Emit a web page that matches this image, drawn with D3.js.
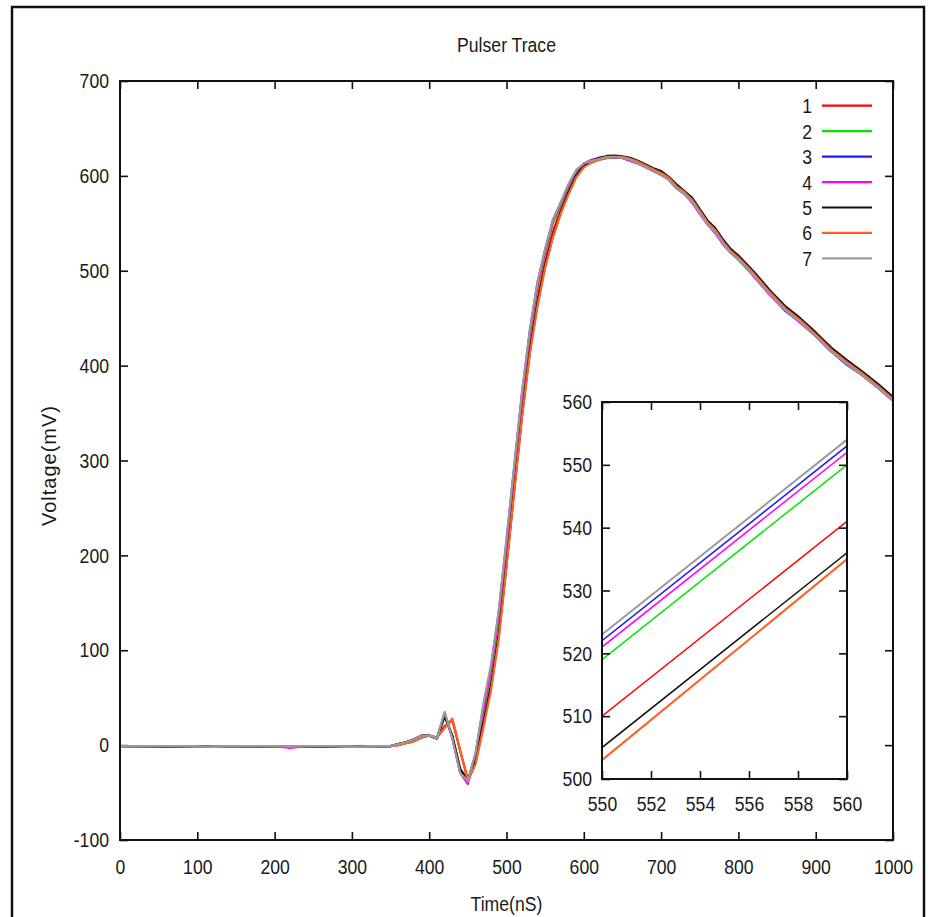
<!DOCTYPE html>
<html>
<head>
<meta charset="utf-8">
<script src="https://cdn.jsdelivr.net/npm/d3@7"></script>
<style>
  body { margin: 0; background: #fff; }
  text { font-family: "Liberation Sans", Arial, Helvetica, sans-serif; fill: #1a1a1a; }
</style>
</head>
<body>
<svg id="chart" width="932" height="917"></svg>
<script>
// Sample times (ns) shared by all traces
const time = [
  0, 20, 40, 60, 80, 100, 120, 140, 160, 180, 200, 220, 240, 260, 280, 300, 320, 340,
  350, 360, 370, 380, 390, 400, 410,
  420, 430, 440, 450,
  460, 470, 480, 490, 500, 510, 520, 530, 540, 550, 560, 570, 580, 590, 600, 610, 620, 630, 640,
  650, 660, 670, 680, 690, 700, 710, 720, 730, 740, 750, 760, 770, 780, 790, 800,
  820, 840, 860, 880, 900, 920, 940, 960, 980, 1000
];

// Voltage (mV) of each recorded pulse
const trace1 = [
  -1, -1, -2, -1, -1, -2, -1, -1, -2, -1, -1, -1, -2, -1, -1, -1, -1, -1,
  -1, 0, 2, 4, 8, 10, 8,
  20, 26, -6, -36,
  -18, 22, 64, 118, 193, 272, 350, 418, 470, 510, 541, 564, 584, 600, 610, 615, 617, 619, 619.5,
  619, 617, 614, 610, 606, 602, 597, 588, 582, 574, 562, 550, 542, 530, 520, 513,
  496, 477, 460, 447, 432, 416, 403, 391, 378, 364
];
const trace2 = [
  -2, -1, -1, -2, -1, -1, -2, -1, -1, -1, -2, -1, -1, -1, -2, -1, -1, -1,
  -1, 1, 3, 6, 10, 10, 7,
  32, 9, -26, -37,
  -12, 31, 75, 132, 207, 285, 362, 429, 482, 519, 550, 569, 589, 604, 612, 616, 618, 619, 620,
  619, 617, 613, 610, 606, 602, 597, 588, 582, 574, 562, 550, 541, 529, 520, 512,
  495, 476, 459, 446, 432, 416, 402, 391, 378, 364
];
const trace3 = [
  -1, -1, -1, -1, -2, -1, -1, -1, -1, -2, -1, -1, -1, -2, -1, -1, -1, -1,
  -1, 1, 3, 6, 10, 10, 7,
  34, 8, -28, -38,
  -9, 40, 82, 140, 215, 293, 370, 435, 487, 522, 553, 571, 590, 605, 613, 616, 618, 619.5, 620,
  619, 616, 613, 609, 605, 601, 596, 587, 581, 573, 561, 549, 540, 529, 519, 512,
  495, 476, 458, 446, 431, 415, 401, 390, 377, 363
];
const trace4 = [
  -1, -1, -1, -1, -1, -1, -1, -2, -1, -1, -1, -3, -1, -1, -1, -1, -1, -2,
  -1, 1, 3, 6, 10, 10, 7,
  33, 7, -29, -41,
  -10, 36, 79, 137, 212, 290, 367, 433, 485, 521, 552, 571, 590, 605, 613, 617, 619, 620, 620,
  619, 616, 613, 609, 605, 601, 596, 587, 581, 572, 560, 549, 540, 528, 519, 512,
  494, 475, 459, 445, 431, 415, 402, 390, 377, 363
];
const trace5 = [
  -1, -1, -1, -2, -1, -1, -1, -1, -1, -1, -1, -1, -1, -2, -1, -1, -1, -1,
  -1, 1, 3, 6, 10, 10, 7,
  30, 10, -25, -37,
  -15, 23, 62, 116, 190, 269, 347, 414, 465, 505, 536, 561, 582, 600, 611, 616, 619, 621, 621.5,
  620.5, 619, 616, 612, 608, 605, 599, 591, 584, 577, 565, 553, 545, 533, 523, 516,
  499, 480, 463, 450, 435, 419, 406, 394, 381, 367
];
const trace6 = [
  -2, -1, -1, -1, -1, -2, -1, -1, -1, -1, -1, -2, -1, -1, -1, -1, -2, -1,
  -1, 0, 2, 4, 8, 10, 8,
  18, 28, -5, -38,
  -20, 18, 58, 112, 188, 267, 345, 411, 462, 503, 535, 560, 580, 598, 609, 614, 617, 619, 620,
  620, 618, 615, 611, 607, 603, 598, 589, 583, 575, 563, 551, 543, 531, 521, 514,
  497, 478, 461, 448, 433, 417, 404, 392, 379, 365
];
const trace7 = [
  -1, -1, -1, -1, -1, -1, -2, -1, -1, -1, -1, -1, -1, -1, -1, -2, -1, -1,
  -1, 1, 3, 6, 10, 10, 7,
  35, 7, -29, -38,
  -8, 43, 85, 142, 218, 295, 372, 437, 488, 523, 554, 572, 591, 606, 613, 616, 618, 620, 620,
  619, 617, 613, 609, 605, 601, 596, 587, 581, 573, 561, 549, 541, 529, 519, 512,
  495, 476, 459, 446, 431, 415, 402, 390, 377, 363
];

const seriesNames = ["1", "2", "3", "4", "5", "6", "7"];
const seriesColors = ["#ff0000", "#00e600", "#1a1aff", "#ff00ff", "#111111", "#ff5f1f", "#9a9a9a"];

const xTickValues = [0, 100, 200, 300, 400, 500, 600, 700, 800, 900, 1000];
const yTickValues = [-100, 0, 100, 200, 300, 400, 500, 600, 700];
const insetXTicks = [550, 552, 554, 556, 558, 560];
const insetYTicks = [500, 510, 520, 530, 540, 550, 560];

const traces = [trace1, trace2, trace3, trace4, trace5, trace6, trace7];
const series = traces.map((vals, i) => ({
  name: seriesNames[i],
  color: seriesColors[i],
  points: vals.map((v, j) => [time[j], v])
}));

const svg = d3.select("#chart");
const SX = 0.84;           // narrow lettering
const FS = 21;
const plain = d => String(d);   // ASCII hyphen for negatives

// outer frame
svg.append("rect")
  .attr("x", 12).attr("y", 7).attr("width", 912).attr("height", 940)
  .attr("fill", "none").attr("stroke", "#111").attr("stroke-width", 2.5);

function label(g, x, y, str, anchor, size) {
  return g.append("text")
    .attr("transform", `translate(${x},${y}) scale(${SX},1)`)
    .attr("text-anchor", anchor)
    .attr("font-size", size || FS)
    .text(str);
}

function styleAxis(g, shiftX) {
  g.select(".domain").remove();
  g.selectAll(".tick line").attr("stroke", "#111").attr("stroke-width", 1.6);
  g.selectAll(".tick text")
    .attr("font-size", FS)
    .attr("fill", "#1a1a1a")
    .attr("font-family", "Liberation Sans, Arial, sans-serif")
    .attr("transform", `scale(${SX},1)`);
  if (shiftX !== undefined) g.selectAll(".tick text").attr("x", shiftX / SX);
}

// ---------- main plot ----------
const L = 120, R = 893, T = 81, B = 840;
const x = d3.scaleLinear().domain([0, 1000]).range([L, R]);
const y = d3.scaleLinear().domain([-100, 700]).range([B, T]);

label(svg, (L + R) / 2, 52, "Pulser Trace", "middle");
label(svg, (L + R) / 2, 911, "Time(nS)", "middle");
svg.append("text")
  .attr("transform", `translate(56,${(T + B) / 2 + 5}) rotate(-90)`)
  .attr("text-anchor", "middle")
  .attr("font-size", 20)
  .attr("letter-spacing", "1px")
  .text("Voltage(mV)");

const gx = svg.append("g").attr("transform", `translate(0,${B})`)
  .call(d3.axisBottom(x).tickValues(xTickValues).tickSizeInner(-8).tickSizeOuter(0).tickPadding(19).tickFormat(plain));
styleAxis(gx);
const gxt = svg.append("g").attr("transform", `translate(0,${T})`)
  .call(d3.axisTop(x).tickValues(xTickValues).tickSizeInner(-8).tickSizeOuter(0).tickFormat(""));
styleAxis(gxt);
const gy = svg.append("g").attr("transform", `translate(${L},0)`)
  .call(d3.axisLeft(y).tickValues(yTickValues).tickSizeInner(-8).tickSizeOuter(0).tickFormat(plain));
styleAxis(gy, -11);
const gyr = svg.append("g").attr("transform", `translate(${R},0)`)
  .call(d3.axisRight(y).tickValues(yTickValues).tickSizeInner(-8).tickSizeOuter(0).tickFormat(""));
styleAxis(gyr);

svg.append("clipPath").attr("id", "mainClip")
  .append("rect").attr("x", L).attr("y", T).attr("width", R - L).attr("height", B - T);

const line = d3.line().x(d => x(d[0])).y(d => y(d[1]));
svg.append("g").attr("clip-path", "url(#mainClip)")
  .selectAll("path").data(series).join("path")
  .attr("d", d => line(d.points))
  .attr("fill", "none")
  .attr("stroke", d => d.color)
  .attr("stroke-width", 2.2)
  .attr("stroke-linejoin", "round");

svg.append("rect")
  .attr("x", L).attr("y", T).attr("width", R - L).attr("height", B - T)
  .attr("fill", "none").attr("stroke", "#111").attr("stroke-width", 2);

// legend
const legend = svg.append("g");
series.forEach((s, i) => {
  const ly = 105.7 + i * 25.45;
  label(legend, 812, ly + 7.5, s.name, "end");
  legend.append("line")
    .attr("x1", 822).attr("x2", 872).attr("y1", ly).attr("y2", ly)
    .attr("stroke", s.color).attr("stroke-width", 2.2);
});

// ---------- inset: close-up of the rising edge ----------
const iL = 602, iR = 847, iT = 402, iB = 779;
const xi = d3.scaleLinear().domain([550, 560]).range([iL, iR]);
const yi = d3.scaleLinear().domain([500, 560]).range([iB, iT]);

svg.append("rect")
  .attr("x", iL).attr("y", iT).attr("width", iR - iL).attr("height", iB - iT)
  .attr("fill", "#fff");

svg.append("clipPath").attr("id", "insetClip")
  .append("rect").attr("x", iL).attr("y", iT).attr("width", iR - iL).attr("height", iB - iT);

const lineI = d3.line().x(d => xi(d[0])).y(d => yi(d[1]));
svg.append("g").attr("clip-path", "url(#insetClip)")
  .selectAll("path").data(series).join("path")
  .attr("d", d => lineI(d.points))
  .attr("fill", "none")
  .attr("stroke", d => d.color)
  .attr("stroke-width", (d, i) => (i === 5 || i === 6) ? 2 : 1.5);

const ix = svg.append("g").attr("transform", `translate(0,${iB})`)
  .call(d3.axisBottom(xi).tickValues(insetXTicks).tickSizeInner(-8).tickSizeOuter(0).tickPadding(17).tickFormat(plain));
styleAxis(ix);
const ixt = svg.append("g").attr("transform", `translate(0,${iT})`)
  .call(d3.axisTop(xi).tickValues(insetXTicks).tickSizeInner(-8).tickSizeOuter(0).tickFormat(""));
styleAxis(ixt);
const iy = svg.append("g").attr("transform", `translate(${iL},0)`)
  .call(d3.axisLeft(yi).tickValues(insetYTicks).tickSizeInner(-8).tickSizeOuter(0).tickFormat(plain));
styleAxis(iy, -10);
const iyr = svg.append("g").attr("transform", `translate(${iR},0)`)
  .call(d3.axisRight(yi).tickValues(insetYTicks).tickSizeInner(-8).tickSizeOuter(0).tickFormat(""));
styleAxis(iyr);

svg.append("rect")
  .attr("x", iL).attr("y", iT).attr("width", iR - iL).attr("height", iB - iT)
  .attr("fill", "none").attr("stroke", "#111").attr("stroke-width", 2);
</script>
</body>
</html>
